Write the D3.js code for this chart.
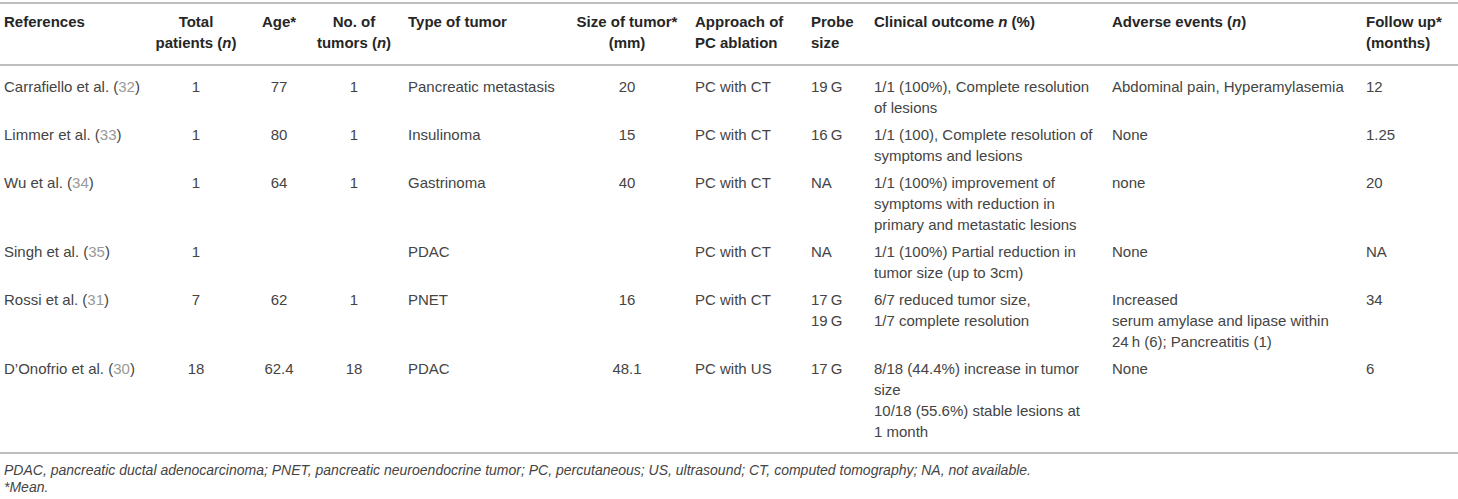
<!DOCTYPE html>
<html>
<head>
<meta charset="utf-8">
<script src="https://cdn.jsdelivr.net/npm/d3@7"></script>
<style>
  body { margin: 0; background: #fff; }
  svg text { font-family: "Liberation Sans", Arial, sans-serif; }
</style>
</head>
<body>
<div id="table"></div>
<script>
// table content, one list per column (underscores mark italic bits)
var headers = [
  ["References"],
  ["Total", "patients (_n_)"],
  ["Age*"],
  ["No. of", "tumors (_n_)"],
  ["Type of tumor"],
  ["Size of tumor*", "(mm)"],
  ["Approach of", "PC ablation"],
  ["Probe", "size"],
  ["Clinical outcome _n_ (%)"],
  ["Adverse events (_n_)"],
  ["Follow up*", "(months)"]
];
var authors = ["Carrafiello et al.", "Limmer et al.", "Wu et al.", "Singh et al.", "Rossi et al.", "D\u2019Onofrio et al."];
var cites = ["32", "33", "34", "35", "31", "30"];
var totalPatients = ["1", "1", "1", "1", "7", "18"];
var ages = ["77", "80", "64", "", "62", "62.4"];
var tumorCounts = ["1", "1", "1", "", "1", "18"];
var tumorTypes = ["Pancreatic metastasis", "Insulinoma", "Gastrinoma", "PDAC", "PNET", "PDAC"];
var tumorSizes = ["20", "15", "40", "", "16", "48.1"];
var approaches = ["PC with CT", "PC with CT", "PC with CT", "PC with CT", "PC with CT", "PC with US"];
var probeSizes = [["19\u2009G"], ["16\u2009G"], ["NA"], ["NA"], ["17\u2009G", "19\u2009G"], ["17\u2009G"]];
var outcomes = [
  ["1/1 (100%), Complete resolution", "of lesions"],
  ["1/1 (100), Complete resolution of", "symptoms and lesions"],
  ["1/1 (100%) improvement of", "symptoms with reduction in", "primary and metastatic lesions"],
  ["1/1 (100%) Partial reduction in", "tumor size (up to 3cm)"],
  ["6/7 reduced tumor size,", "1/7 complete resolution"],
  ["8/18 (44.4%) increase in tumor", "size", "10/18 (55.6%) stable lesions at", "1 month"]
];
var adverse = [
  ["Abdominal pain, Hyperamylasemia"],
  ["None"],
  ["none"],
  ["None"],
  ["Increased", "serum amylase and lipase within", "24\u2009h (6); Pancreatitis (1)"],
  ["None"]
];
var followUp = ["12", "1.25", "20", "NA", "34", "6"];
var footnotes = [
  "PDAC, pancreatic ductal adenocarcinoma; PNET, pancreatic neuroendocrine tumor; PC, percutaneous; US, ultrasound; CT, computed tomography; NA, not available.",
  "*Mean."
];

var width = 1458, height = 499;
var lineH = 21, rowGap = 6, fs = 15;

// column x positions and text anchors
var cols = [
  {x: 4, anchor: "start"},
  {x: 196, anchor: "middle"},
  {x: 279, anchor: "middle"},
  {x: 354, anchor: "middle"},
  {x: 408, anchor: "start"},
  {x: 627, anchor: "middle"},
  {x: 695, anchor: "start"},
  {x: 811, anchor: "start"},
  {x: 874, anchor: "start"},
  {x: 1112, anchor: "start"},
  {x: 1366, anchor: "start"}
];

var svg = d3.select("#table").append("svg")
    .attr("width", width)
    .attr("height", height);

// build rows: every cell is a list of lines
var rows = authors.map(function(a, i) {
  return [
    null,
    [totalPatients[i]], [ages[i]], [tumorCounts[i]], [tumorTypes[i]],
    [tumorSizes[i]], [approaches[i]], probeSizes[i], outcomes[i], adverse[i], [followUp[i]]
  ];
});

// row tops
var y0 = 92, tops = [];
rows.forEach(function(r, i) {
  tops.push(y0);
  var n = d3.max(r.slice(1), function(c) { return c.length; });
  y0 += n * lineH + rowGap;
});

// rules
var rules = [3, 65, 453];
svg.selectAll("line.rule")
    .data(rules)
    .enter()
    .append("line")
    .attr("x1", 0)
    .attr("x2", width)
    .attr("y1", function(d) { return d; })
    .attr("y2", function(d) { return d; })
    .attr("stroke", "#a8a8a8")
    .attr("stroke-width", 1.5);

// header
function addSegments(textSel, str) {
  str.split("_").forEach(function(s, k) {
    if (!s) return;
    textSel.append("tspan")
      .attr("font-style", k % 2 ? "italic" : null)
      .text(s);
  });
}
headers.forEach(function(h, c) {
  h.forEach(function(line, j) {
    var t = svg.append("text")
      .attr("x", cols[c].x)
      .attr("y", 27 + j * lineH)
      .attr("text-anchor", cols[c].anchor)
      .attr("font-size", fs)
      .attr("font-weight", "bold")
      .attr("fill", "#262626");
    addSegments(t, line);
  });
});

// body
var body = svg.append("g").attr("fill", "#444").attr("font-size", fs);
rows.forEach(function(r, i) {
  var ref = body.append("text")
    .attr("x", cols[0].x)
    .attr("y", tops[i]);
  ref.append("tspan").text(authors[i] + " (");
  ref.append("tspan").attr("fill", "#999").text(cites[i]);
  ref.append("tspan").text(")");

  r.slice(1).forEach(function(cell, c) {
    body.selectAll(null)
      .data(cell)
      .enter()
      .append("text")
      .attr("x", cols[c + 1].x)
      .attr("y", function(d, j) { return tops[i] + j * lineH; })
      .attr("text-anchor", cols[c + 1].anchor)
      .text(function(d) { return d; });
  });
});

// footnotes
svg.selectAll("text.foot")
    .data(footnotes)
    .enter()
    .append("text")
    .attr("class", "foot")
    .attr("x", 4)
    .attr("y", function(d, i) { return 475 + i * 17; })
    .attr("font-size", 14)
    .attr("font-style", "italic")
    .attr("fill", "#444")
    .text(function(d) { return d; });
</script>
</body>
</html>
